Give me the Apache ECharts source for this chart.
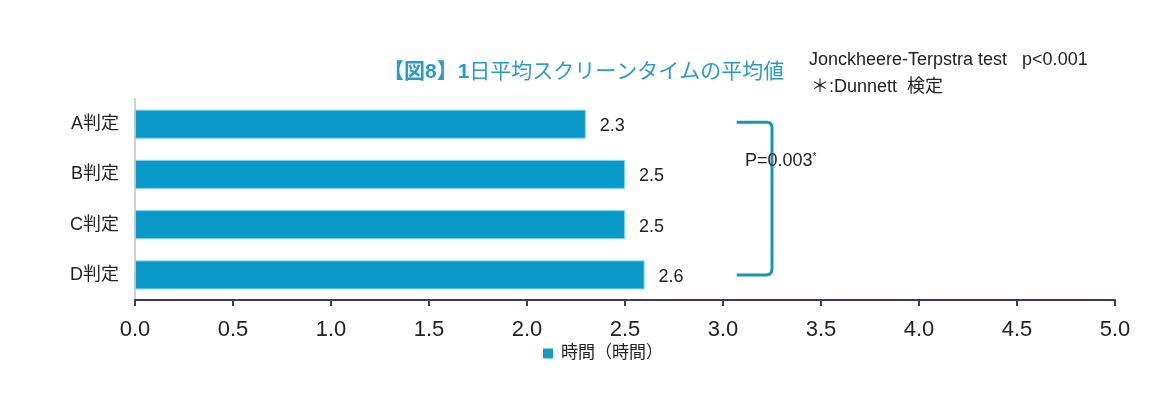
<!DOCTYPE html>
<html>
<head>
<meta charset="utf-8">
<script src="https://cdn.jsdelivr.net/npm/echarts@6/dist/echarts.min.js"></script>
<style>
  html, body { margin: 0; padding: 0; background: #fff; }
  #chart { width: 1175px; height: 396px; }
</style>
</head>
<body>
<div id="chart"></div>
<script>
// データ
const categories = ['A判定', 'B判定', 'C判定', 'D判定'];
const values = [2.3, 2.5, 2.5, 2.6];
const seriesName = '時間（時間）';
const xTicks = { min: 0, max: 5, interval: 0.5 };

const FONT = '"Liberation Sans", "Noto Sans CJK JP", sans-serif';
const BAR = '#0899c9';

const chart = echarts.init(document.getElementById('chart'));

let option = {
    animation: false,
    textStyle: { fontFamily: FONT },
    title: [
        {
            text: '{b|【図8】1}{n|日平均スクリーンタイムの平均値}',
            left: 378,
            top: 57,
            textStyle: {
                rich: {
                    b: { fontSize: 21, fontWeight: 'bold', color: '#2a9bc6', fontFamily: FONT },
                    n: { fontSize: 21, fontWeight: 'normal', color: '#2a9bc6', fontFamily: FONT }
                }
            }
        },
        {
            text: 'Jonckheere-Terpstra test   p<0.001',
            left: 804,
            top: 46,
            textStyle: { fontSize: 18, fontWeight: 'normal', color: '#222', fontFamily: FONT }
        },
        {
            text: '＊:Dunnett  検定',
            left: 806,
            top: 73,
            textStyle: { fontSize: 18, fontWeight: 'normal', color: '#222', fontFamily: FONT }
        }
    ],
    legend: {
        data: [seriesName],
        bottom: 29,
        left: 538,
        icon: 'rect',
        itemWidth: 10,
        itemHeight: 10,
        itemGap: 4,
        itemStyle: { color: '#1a9bc4', borderWidth: 0 },
        textStyle: { fontSize: 17, color: '#222', fontFamily: FONT, padding: [0, 0, 0, 3] }
    },
    grid: {
        left: 135,
        right: 60,
        top: 99,
        bottom: 96
    },
    xAxis: {
        type: 'value',
        min: xTicks.min,
        max: xTicks.max,
        interval: xTicks.interval,
        axisLine: { show: true, lineStyle: { color: '#3b3870', width: 2 } },
        axisTick: { show: true, length: 6, lineStyle: { color: '#3b3870', width: 2 } },
        axisLabel: {
            fontSize: 22,
            color: '#222',
            margin: 19,
            formatter: (v) => v.toFixed(1)
        },
        splitLine: { show: false }
    },
    yAxis: {
        type: 'category',
        data: categories,
        inverse: true,
        axisLine: { show: true, lineStyle: { color: '#d0d0d0', width: 2 } },
        axisTick: { show: false },
        axisLabel: { fontSize: 18, color: '#222', margin: 16 }
    },
    series: [
        {
            name: seriesName,
            type: 'bar',
            data: values,
            barWidth: 29,
            itemStyle: { color: BAR, borderColor: '#7fd3ee', borderWidth: 1 },
            label: {
                show: true,
                position: 'right',
                distance: 14,
                fontSize: 18,
                color: '#222',
                offset: [0, 2],
                formatter: (p) => p.value.toFixed(1)
            }
        }
    ]
};
chart.setOption(option);

// 有意差のブラケット
const pTop = chart.convertToPixel({ gridIndex: 0 }, [3.25, categories[0]]);
const pBot = chart.convertToPixel({ gridIndex: 0 }, [3.25, categories[3]]);
const armX = chart.convertToPixel({ gridIndex: 0 }, [3.07, categories[0]])[0];
const bx = pTop[0];
const y1 = pTop[1] - 2, y2 = pBot[1];
chart.setOption({
    graphic: [
        {
            type: 'polyline',
            shape: {
                points: [
                    [armX, y1], [bx - 5, y1], [bx - 2, y1 + 1], [bx - 0.5, y1 + 3], [bx, y1 + 6],
                    [bx, y2 - 6], [bx - 0.5, y2 - 3], [bx - 2, y2 - 1], [bx - 5, y2], [armX, y2]
                ]
            },
            style: { fill: null, stroke: '#1a93bb', lineWidth: 3 }
        },
        {
            type: 'text',
            left: 745,
            top: 152,
            style: {
                text: 'P=0.003{s|*}',
                font: '18px ' + FONT,
                fill: '#222',
                rich: { s: { fontSize: 10, verticalAlign: 'top', padding: [0, 0, 7, 0], fill: '#222' } }
            }
        }
    ]
});
</script>
</body>
</html>
